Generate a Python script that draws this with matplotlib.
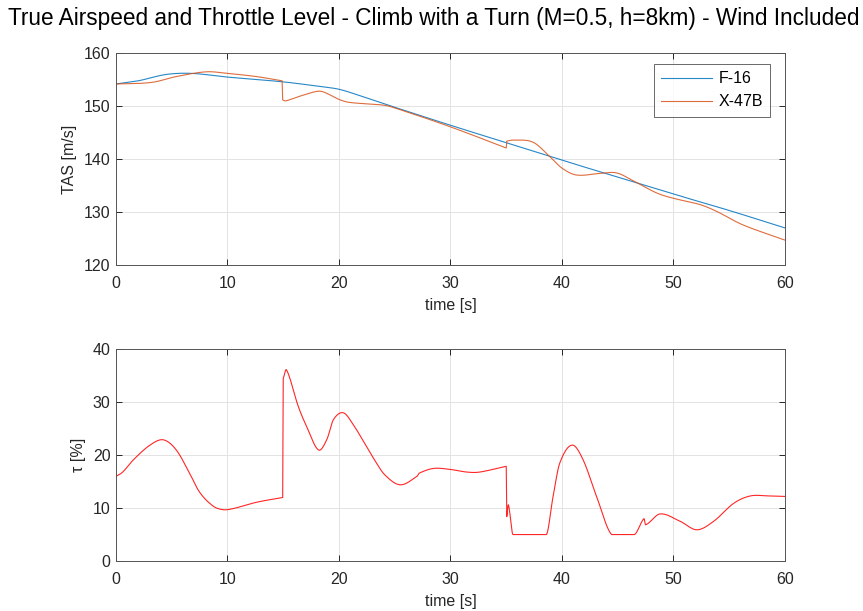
import matplotlib
matplotlib.use("Agg")
import matplotlib.pyplot as plt
import numpy as np

plt.rcParams['font.family'] = ['Liberation Sans', 'DejaVu Sans']

# --- Data ---
t_f16 = [0, 2, 4.5, 6.8, 10, 15, 18, 20, 22, 25, 30, 35, 40, 45, 50, 55, 60]
tas_f16 = [154.2, 154.8, 156.0, 156.2, 155.5, 154.6, 153.8, 153.2, 151.9, 149.8,
           146.4, 143.1, 139.8, 136.6, 133.4, 130.3, 127.0]

t_x47 = [0, 2, 3.5, 5.4, 8.1, 10, 12.6, 14.9, 14.95, 15.2, 16.5, 18, 18.6, 20.1, 21,
         24, 25.1, 30, 35.0, 35.05, 35.6, 37.4, 38.9, 40, 41.3, 43.4, 44.9, 46.4,
         48.5, 50, 52.4, 53.9, 56.2, 60]
tas_x47 = [154.2, 154.3, 154.6, 155.6, 156.5, 156.2, 155.6, 154.8, 151.2, 151.0, 151.9,
           152.8, 152.7, 151.2, 150.7, 150.2, 149.6, 146.1, 142.1, 143.4, 143.6, 143.2,
           140.5, 138.3, 137.0, 137.3, 137.4, 135.9, 133.6, 132.6, 131.4, 130.1, 127.6, 124.7]

t_thr = [0, 0.6, 1.55, 3.05, 4.25, 5.4, 6.6, 7.5, 8.7, 9.6, 10.5, 12.6, 14.95, 15.0, 15.3,
         16.35, 17.1, 18.15, 18.9, 19.5, 20.4, 21.3, 22.2, 23.1, 24.1, 25.5, 27.0, 27.2,
         28.5, 30, 31.5, 32.6, 35.0, 35.05, 35.2, 35.6, 38.6, 39.2, 39.8, 40.9, 41.9,
         43.1, 44.45, 46.5, 47.35, 47.5, 48.8, 50.6, 52.1, 53.6, 55.4, 56.9, 58.5, 60]
thr = [16.0, 16.8, 19.1, 21.9, 22.9, 21.0, 16.6, 13.0, 10.4, 9.7, 9.9, 11.1, 12.0, 34.5, 36.1,
       29.2, 25.4, 21.0, 22.9, 26.7, 28.0, 25.7, 22.6, 19.4, 16.3, 14.4, 16.0, 16.6,
       17.5, 17.3, 16.8, 16.8, 17.9, 8.4, 10.6, 5.0, 5.0, 12.2, 18.5, 21.9, 19.1,
       12.2, 5.0, 5.0, 8.0, 6.85, 8.9, 7.5, 5.9, 7.5, 10.9, 12.3, 12.3, 12.2]

xticks = [0, 10, 20, 30, 40, 50, 60]
yticks_top = [120, 130, 140, 150, 160]
yticks_bot = [0, 10, 20, 30, 40]


def smooth(tk, yk, n=12):
    """Cubic Hermite densification between the read points (no new data)."""
    tk = np.asarray(tk, float); yk = np.asarray(yk, float)
    xs, ys = [], []
    for i in range(len(tk) - 1):
        t0, t1 = tk[i], tk[i + 1]
        if t1 - t0 < 0.1:
            xs += [t0]; ys += [yk[i]]
            continue
        y0, y1 = yk[i], yk[i + 1]
        m0 = (yk[i + 1] - yk[i - 1]) / (tk[i + 1] - tk[i - 1]) if i > 0 and tk[i] - tk[i - 1] >= 0.1 else (y1 - y0) / (t1 - t0)
        m1 = (yk[i + 2] - yk[i]) / (tk[i + 2] - tk[i]) if i + 2 < len(tk) and tk[i + 2] - tk[i + 1] >= 0.1 else (y1 - y0) / (t1 - t0)
        s = np.linspace(0, 1, n, endpoint=False)
        h = t1 - t0
        h00 = 2 * s**3 - 3 * s**2 + 1
        h10 = s**3 - 2 * s**2 + s
        h01 = -2 * s**3 + 3 * s**2
        h11 = s**3 - s**2
        xs += list(t0 + s * h)
        ys += list(h00 * y0 + h10 * h * m0 + h01 * y1 + h11 * h * m1)
    xs.append(tk[-1]); ys.append(yk[-1])
    return np.array(xs), np.array(ys)


fig = plt.figure(figsize=(8.63, 6.11), dpi=100)
ax1 = fig.add_axes([0.1344, 0.5663, 0.7752, 0.3465])
ax2 = fig.add_axes([0.1344, 0.0818, 0.7752, 0.3465])

blue = '#0072BD'
orange = '#D95319'
red = '#FF0000'
axcol = '#262626'
fs = 11.5

x, y = smooth(t_f16, tas_f16)
ax1.plot(x, y, color=blue, lw=0.8, alpha=0.85, label='F-16')
x, y = smooth(t_x47, tas_x47)
ax1.plot(x, y, color=orange, lw=0.8, alpha=0.85, label='X-47B')
x, y = smooth(t_thr, thr)
y = np.clip(y, 5.0, None)
ax2.plot(x, y, color=red, lw=0.8, alpha=0.85)

for ax, yt, yl in [(ax1, yticks_top, 'TAS [m/s]'), (ax2, yticks_bot, 'τ [%]')]:
    ax.set_xlim(0, 60)
    ax.set_ylim(yt[0], yt[-1])
    ax.set_xticks(xticks)
    ax.set_yticks(yt)
    ax.grid(True, color='#e3e3e3', lw=0.7)
    ax.set_axisbelow(True)
    ax.tick_params(direction='in', top=True, right=True, length=4, width=0.7,
                   colors=axcol, labelsize=fs, pad=4)
    ax.tick_params(axis='x', pad=8)
    for s in ax.spines.values():
        s.set_color('#555555'); s.set_linewidth(0.7)
    ax.set_xlabel('time [s]', fontsize=fs, color=axcol, labelpad=5)
    ax.set_ylabel(yl, fontsize=fs, color=axcol, labelpad=5)

leg = ax1.legend(loc='upper right', bbox_to_anchor=(0.9776, 0.948), borderaxespad=0,
                 fontsize=fs, frameon=True, fancybox=False,
                 edgecolor='#262626', handlelength=3.2, handletextpad=0.4,
                 borderpad=0.45, labelspacing=0.5)
leg.get_frame().set_linewidth(0.6)

fig.text(0.503, 0.9705, 'True Airspeed and Throttle Level - Climb with a Turn (M=0.5, h=8km) - Wind Included',
         ha='center', va='center', fontsize=16.3, color='black')

fig.savefig('out.png', dpi=100, facecolor='white')
